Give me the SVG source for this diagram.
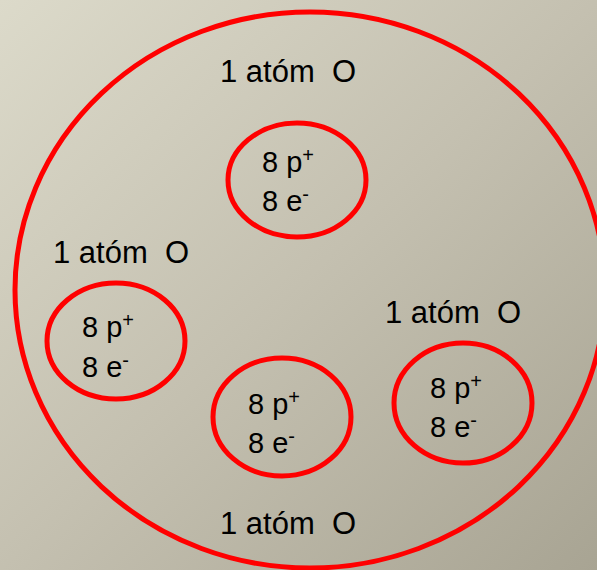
<svg xmlns="http://www.w3.org/2000/svg" width="597" height="570" viewBox="0 0 597 570">
<defs>
<linearGradient id="bg" x1="0" y1="0" x2="1" y2="1">
<stop offset="0" stop-color="#dcdaca"/>
<stop offset="0.5" stop-color="#c4c0b0"/>
<stop offset="1" stop-color="#a8a493"/>
</linearGradient>
<style>
.ring{fill:none;stroke:#ff0000;stroke-width:5}
.lbl{font-family:"Liberation Sans",Arial,sans-serif;font-size:31px;fill:#000}
.num{font-family:"Liberation Sans",Arial,sans-serif;font-size:29px;fill:#000}
.sup{font-size:20px}
</style>
</defs>
<rect width="597" height="570" fill="url(#bg)"/>
<g id="molecule">
<ellipse class="ring" cx="310" cy="290" rx="295" ry="278" stroke-width="6"/>
</g>
<g id="connectors"/>
<g id="atom-top">
<ellipse class="ring" cx="297" cy="180" rx="69" ry="57"/>
<text class="lbl" x="220" y="82" xml:space="preserve">1 atóm  O</text>
<text class="num" x="262" y="172">8 p<tspan class="sup" dy="-10">+</tspan></text>
<text class="num" x="262" y="211">8 e<tspan class="sup" dy="-10">-</tspan></text>
</g>
<g id="atom-left">
<ellipse class="ring" cx="116" cy="341" rx="69" ry="58"/>
<text class="lbl" x="53" y="263" xml:space="preserve">1 atóm  O</text>
<text class="num" x="82" y="337">8 p<tspan class="sup" dy="-10">+</tspan></text>
<text class="num" x="82" y="377">8 e<tspan class="sup" dy="-10">-</tspan></text>
</g>
<g id="atom-bottom">
<ellipse class="ring" cx="282" cy="417" rx="69" ry="59"/>
<text class="lbl" x="220" y="534" xml:space="preserve">1 atóm  O</text>
<text class="num" x="248" y="414">8 p<tspan class="sup" dy="-10">+</tspan></text>
<text class="num" x="248" y="453">8 e<tspan class="sup" dy="-10">-</tspan></text>
</g>
<g id="atom-right">
<ellipse class="ring" cx="463" cy="403" rx="69" ry="60"/>
<text class="lbl" x="385" y="323" xml:space="preserve">1 atóm  O</text>
<text class="num" x="430" y="398">8 p<tspan class="sup" dy="-10">+</tspan></text>
<text class="num" x="430" y="437">8 e<tspan class="sup" dy="-10">-</tspan></text>
</g>
</svg>
